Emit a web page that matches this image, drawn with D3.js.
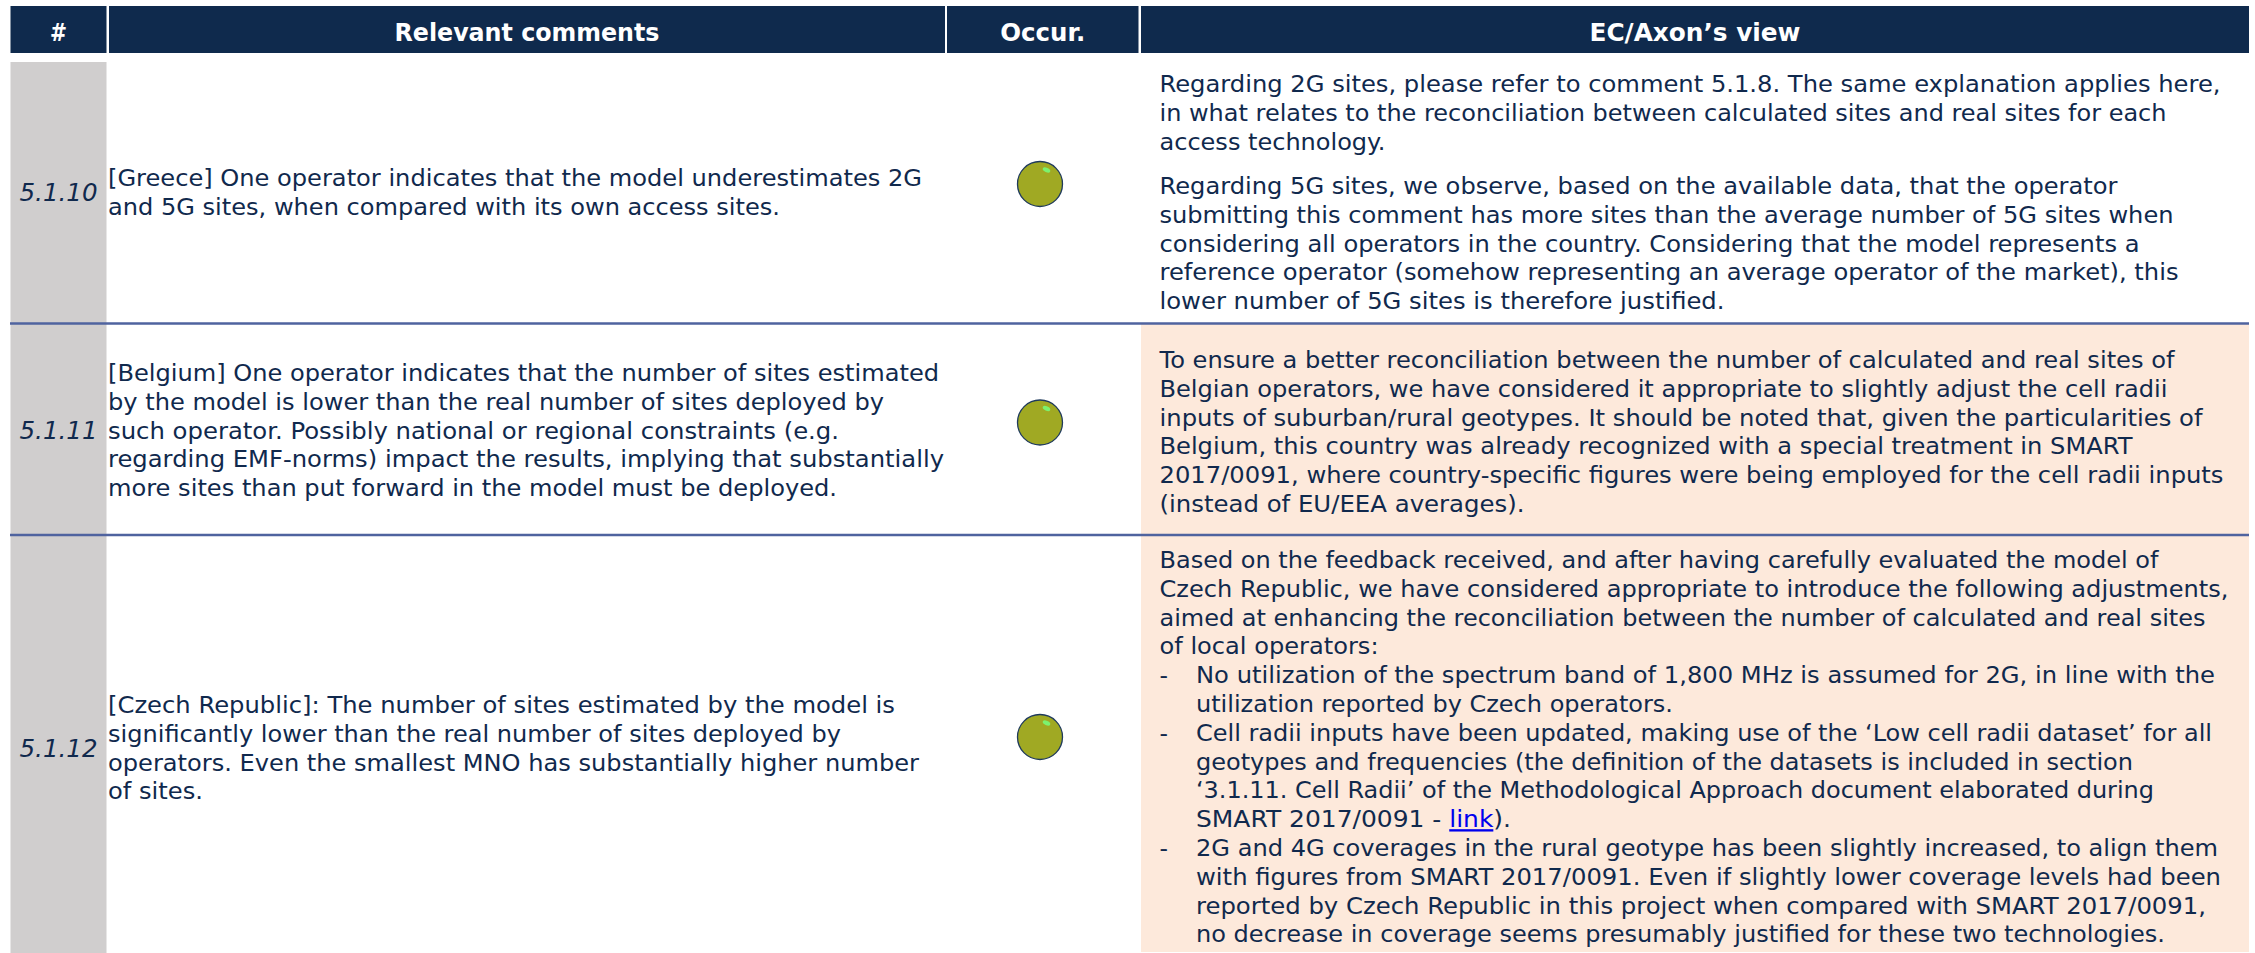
<!DOCTYPE html>
<meta charset="utf-8">
<head>
  <title>Comments table</title>
</head>

<style>
html, body { margin: 0; padding: 0; background: #fff; }
svg { display: block; }
text { font-family: "DejaVu Sans", Verdana, sans-serif; fill: #10294d; font-size: 23.5px; }
.head { fill: #fff; font-weight: bold; font-size: 24px; text-anchor: middle; }
.num { font-style: italic; text-anchor: middle; font-size: 24px; }
.link { fill: #0000ee; text-decoration: underline; }
</style>

<body>
  <svg width="2255" height="953"></svg>

  <script src="https://cdnjs.cloudflare.com/ajax/libs/d3/7.8.5/d3.min.js"></script>
  <script>

const headers = ["#", "Relevant comments", "Occur.", "EC/Axon\u2019s view"];
const ids = ["5.1.10", "5.1.11", "5.1.12"];
const highlighted = [false, true, true];

const comments = [
  ["[Greece] One operator indicates that the model underestimates 2G",
   "and 5G sites, when compared with its own access sites."],
  ["[Belgium] One operator indicates that the number of sites estimated",
   "by the model is lower than the real number of sites deployed by",
   "such operator. Possibly national or regional constraints (e.g.",
   "regarding EMF-norms) impact the results, implying that substantially",
   "more sites than put forward in the model must be deployed."],
  ["[Czech Republic]: The number of sites estimated by the model is",
   "significantly lower than the real number of sites deployed by",
   "operators. Even the smallest MNO has substantially higher number",
   "of sites."]
];

const views = [
  ["Regarding 2G sites, please refer to comment 5.1.8. The same explanation applies here,",
   "in what relates to the reconciliation between calculated sites and real sites for each",
   "access technology."],
  ["Regarding 5G sites, we observe, based on the available data, that the operator",
   "submitting this comment has more sites than the average number of 5G sites when",
   "considering all operators in the country. Considering that the model represents a",
   "reference operator (somehow representing an average operator of the market), this",
   "lower number of 5G sites is therefore justified."],
  ["To ensure a better reconciliation between the number of calculated and real sites of",
   "Belgian operators, we have considered it appropriate to slightly adjust the cell radii",
   "inputs of suburban/rural geotypes. It should be noted that, given the particularities of",
   "Belgium, this country was already recognized with a special treatment in SMART",
   "2017/0091, where country-specific figures were being employed for the cell radii inputs",
   "(instead of EU/EEA averages)."],
  ["Based on the feedback received, and after having carefully evaluated the model of",
   "Czech Republic, we have considered appropriate to introduce the following adjustments,",
   "aimed at enhancing the reconciliation between the number of calculated and real sites",
   "of local operators:"]
];

const bullets = [
  ["No utilization of the spectrum band of 1,800 MHz is assumed for 2G, in line with the",
   "utilization reported by Czech operators."],
  ["Cell radii inputs have been updated, making use of the \u2018Low cell radii dataset\u2019 for all",
   "geotypes and frequencies (the definition of the datasets is included in section",
   "\u20183.1.11. Cell Radii\u2019 of the Methodological Approach document elaborated during",
   "SMART 2017/0091 - "],
  ["2G and 4G coverages in the rural geotype has been slightly increased, to align them",
   "with figures from SMART 2017/0091. Even if slightly lower coverage levels had been",
   "reported by Czech Republic in this project when compared with SMART 2017/0091,",
   "no decrease in coverage seems presumably justified for these two technologies."]
];

// layout
const colEdges = [[10.5, 106.5], [109, 945], [947, 1138.5], [1141, 2249]];
const rowEdges = [62, 323, 535, 953];
const rowLines = [323.5, 535];
const lineH = 28.8;
const circleY = [184, 422.5, 737];
const idBase = [200.5, 439, 757];
const commentBase = [186, 381, 713];
const viewBase = [92, 194, 368, 568];

// widths the lines take in the picture (the font is a stand-in for the original)
const headerW = [17, 265, 85, 211];
const idW = 78;
const commentW = [[814, 672], [831, 776, 731, 836, 729], [787, 733, 811, 95]];
const viewW = [[1061, 1007, 226], [958, 1014, 980, 1019, 565],
  [1015, 1008, 1043, 973, 1064, 365], [999, 1069, 1046, 219]];
const bulletW = [[1019, 477], [1016, 937, 958, 315], [1022, 1025, 1010, 969]];

const svg = d3.select('svg');
const line = i => lineH * i;

function fit(sel, w) {
  sel.attr('textLength', w).attr('lengthAdjust', 'spacingAndGlyphs');
}

// header
svg.selectAll('rect.hd')
  .data(headers)
  .enter()
  .append('rect')
  .attr('class', 'hd')
  .attr('x', (d, i) => colEdges[i][0])
  .attr('y', 6)
  .attr('width', (d, i) => colEdges[i][1] - colEdges[i][0])
  .attr('height', 47)
  .attr('fill', '#0f2a4d');

svg.selectAll('text.head')
  .data(headers)
  .enter()
  .append('text')
  .attr('class', 'head')
  .attr('x', (d, i) => (colEdges[i][0] + colEdges[i][1]) / 2)
  .attr('y', 41)
  .call(fit, (d, i) => headerW[i])
  .text(d => d);

// id column
svg.append('rect')
  .attr('x', colEdges[0][0])
  .attr('y', rowEdges[0])
  .attr('width', colEdges[0][1] - colEdges[0][0])
  .attr('height', rowEdges[3] - rowEdges[0])
  .attr('fill', '#d0cece');

// peach cells
svg.selectAll('rect.cell')
  .data(ids)
  .enter()
  .append('rect')
  .attr('class', 'cell')
  .attr('x', colEdges[3][0])
  .attr('y', (d, i) => rowEdges[i])
  .attr('width', colEdges[3][1] - colEdges[3][0])
  .attr('height', (d, i) => rowEdges[i + 1] - rowEdges[i] - (i == 2 ? 1 : 0))
  .attr('fill', (d, i) => highlighted[i] ? '#fde9db' : '#fff');

// row lines
svg.selectAll('line.row')
  .data(rowLines)
  .enter()
  .append('line')
  .attr('class', 'row')
  .attr('x1', colEdges[0][0] - 0.5)
  .attr('x2', colEdges[3][1])
  .attr('y1', d => d)
  .attr('y2', d => d)
  .attr('stroke', '#4f639f')
  .attr('stroke-width', 2.5);

// ids
svg.selectAll('text.num')
  .data(ids)
  .enter()
  .append('text')
  .attr('class', 'num')
  .attr('x', 58.5)
  .attr('y', (d, i) => idBase[i])
  .call(fit, idW)
  .text(d => d);

// occurrence balls
const balls = svg.selectAll('g.ball')
  .data(ids)
  .enter()
  .append('g')
  .attr('class', 'ball')
  .attr('transform', (d, i) => `translate(1040,${circleY[i]})`);

balls.append('circle')
  .attr('r', 22.5)
  .attr('fill', '#a0a923')
  .attr('stroke', '#1f3a5c')
  .attr('stroke-width', 1.3);

balls.append('ellipse')
  .attr('cx', 6.5)
  .attr('cy', -14)
  .attr('rx', 4)
  .attr('ry', 2.2)
  .attr('transform', 'rotate(25 6.5 -14)')
  .attr('fill', '#7cf26e');

// comment text
comments.forEach((lines, r) => {
  svg.append('g').selectAll('text')
    .data(lines)
    .enter()
    .append('text')
    .attr('x', colEdges[1][0] - 1)
    .attr('y', (d, i) => commentBase[r] + line(i))
    .call(fit, (d, i) => commentW[r][i])
    .text(d => d);
});

// view text
views.forEach((lines, p) => {
  svg.append('g').selectAll('text')
    .data(lines)
    .enter()
    .append('text')
    .attr('x', 1159.5)
    .attr('y', (d, i) => viewBase[p] + line(i))
    .call(fit, (d, i) => viewW[p][i])
    .text(d => d);
});

// bullets of the last cell
let count = 4;
bullets.forEach((lines, b) => {
  const y0 = viewBase[3] + line(count);
  svg.append('text').attr('x', 1159.5).attr('y', y0).text('-');
  const g = svg.append('g');
  g.selectAll('text')
    .data(lines)
    .enter()
    .append('text')
    .attr('x', 1196)
    .attr('y', (d, i) => y0 + line(i))
    .call(fit, (d, i) => bulletW[b][i])
    .text(d => d);
  if (b == 1) {
    const s = d3.select(g.selectAll('text').nodes()[3]);
    s.append('tspan').attr('class', 'link').text('link');
    s.append('tspan').text(').');
  }
  count += lines.length;
});

  </script>
</body>
</html>
